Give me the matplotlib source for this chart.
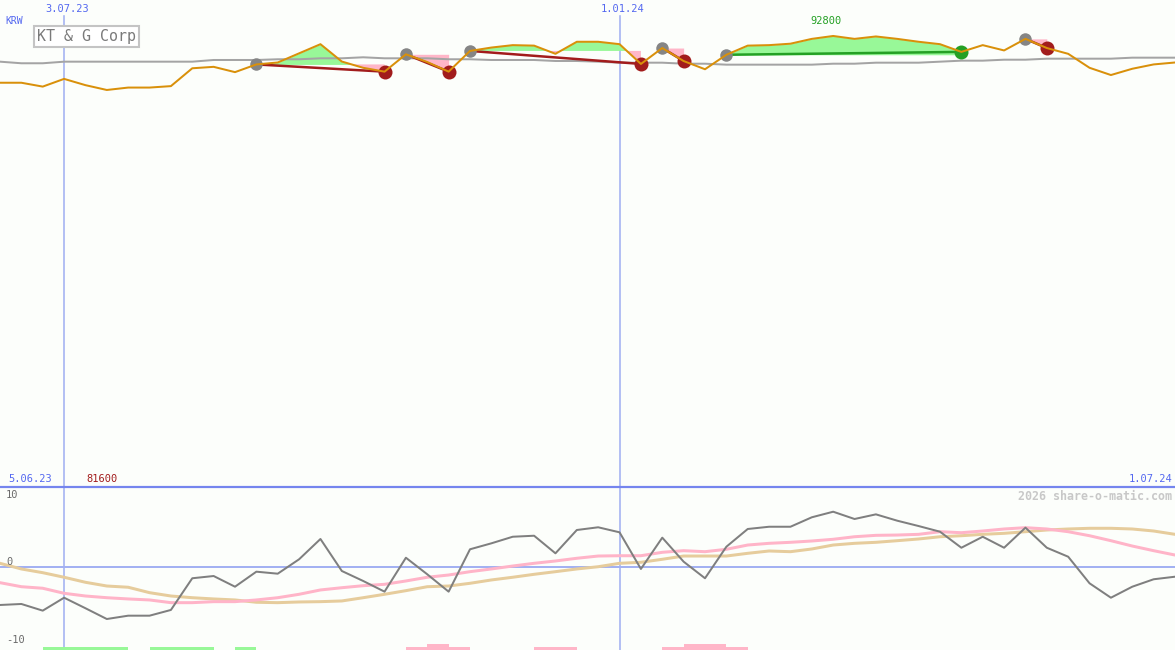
import matplotlib
matplotlib.use('Agg')
import matplotlib.pyplot as plt
import matplotlib.dates as mdates
from matplotlib.lines import Line2D
from matplotlib.patches import FancyBboxPatch
import numpy as np
import pandas as pd

# ---------------- data ----------------
dates = pd.date_range('2023-06-12', '2024-07-01', freq='7D')

price = [83100, 83100, 82300, 83900, 82600, 81600, 82100, 82100, 82400, 86100,
         86400, 85300, 86900, 87300, 89200, 91100, 87500, 86200, 85400, 89000,
         87400, 85400, 89700, 90400, 90900, 90800, 89100, 91600, 91600, 91100,
         87000, 90300, 87600, 85900, 88900, 90800, 90900, 91200, 92200, 92800,
         92200, 92700, 92200, 91600, 91100, 89500, 90900, 89800, 92200, 90300,
         89100, 86200, 84700, 86000, 86900, 87300]

ma_line = [87470, 87140, 87140, 87470, 87470, 87470, 87470, 87470, 87470, 87470,
           87820, 87820, 87820, 87970, 87970, 88170, 88170, 88380, 88170, 88170,
           88170, 87970, 87970, 87820, 87820, 87820, 87610, 87610, 87470, 87260,
           87260, 87260, 87050, 87050, 86850, 86850, 86850, 86850, 86850, 87050,
           87050, 87260, 87260, 87260, 87470, 87680, 87680, 87880, 87880, 88090,
           88090, 88090, 88090, 88300, 88300, 88300]

osc = [-4.84, -4.71, -5.57, -3.90, -5.26, -6.65, -6.22, -6.22, -5.48, -1.39,
       -1.10, -2.48, -0.54, -0.80, 1.06, 3.68, -0.45, -1.74, -3.12, 1.26,
       -0.88, -3.12, 2.35, 3.12, 3.97, 4.10, 1.83, 4.84, 5.19, 4.54,
       -0.19, 3.85, 0.75, -1.39, 2.68, 4.97, 5.26, 5.26, 6.48, 7.20,
       6.26, 6.86, 6.04, 5.35, 4.62, 2.55, 3.97, 2.55, 5.14, 2.55,
       1.39, -2.04, -3.90, -2.48, -1.52, -1.19]

osc_pink = [-1.96, -2.48, -2.68, -3.33, -3.68, -3.90, -4.06, -4.19, -4.54, -4.54,
            -4.41, -4.41, -4.19, -3.90, -3.46, -2.90, -2.61, -2.35, -2.17, -1.74,
            -1.26, -0.97, -0.54, -0.19, 0.19, 0.54, 0.84, 1.19, 1.48, 1.52,
            1.52, 1.96, 2.17, 2.04, 2.35, 2.90, 3.12, 3.25, 3.42, 3.64,
            3.97, 4.15, 4.19, 4.28, 4.62, 4.49, 4.71, 4.97, 5.14, 4.97,
            4.62, 4.10, 3.46, 2.77, 2.17, 1.61]

osc_tan = [0.54, -0.19, -0.67, -1.26, -1.91, -2.39, -2.55, -3.25, -3.68, -3.90,
           -4.06, -4.19, -4.49, -4.54, -4.45, -4.41, -4.32, -3.90, -3.46, -2.99,
           -2.48, -2.39, -2.04, -1.61, -1.26, -0.88, -0.54, -0.19, 0.10, 0.54,
           0.67, 1.06, 1.48, 1.48, 1.48, 1.83, 2.13, 2.04, 2.39, 2.90,
           3.12, 3.25, 3.46, 3.68, 3.97, 4.10, 4.28, 4.41, 4.62, 4.84,
           4.97, 5.06, 5.06, 4.97, 4.71, 4.28]

trade_entry = [12, 19, 22, 31, 34, 48]
trade_exit = [18, 21, 30, 32, 45, 49]

green_bar_weeks = [2, 3, 4, 5, 7, 8, 9, 11]
green_bar_level = [1, 1, 1, 1, 1, 1, 1, 1]
pink_bar_weeks = [19, 20, 21, 25, 26, 31, 32, 33, 34]
pink_bar_level = [1, 2, 1, 1, 1, 1, 2, 2, 1]

vline_weeks = [3, 29]
vline_labels = ['3.07.23', '1.01.24']
left_label = '5.06.23'
right_label = '1.07.24'
title = 'KT & G Corp'
currency = 'KRW'
osc_ticks = [10, 0, -10]

# ---------------- styling ----------------
W, H = 1175, 650
BG = '#fcfefb'
ORANGE = '#d9900a'
GRAYMA = '#a4a4a4'
RED = '#a21c1c'
DGREEN = '#24a024'
LGREEN = '#98f898'
LPINK = '#ffb6c8'
BLUE = '#5468f0'
LBLUE = '#a3b1f2'
MBLUE = '#7585ee'
MONO = 'DejaVu Sans Mono'

fig = plt.figure(figsize=(W / 100, H / 100), dpi=100, facecolor=BG)
split = 163 / H
ax1 = fig.add_axes([0, split, 1, 1 - split])
ax2 = fig.add_axes([0, 0, 1, split])
for ax in (ax1, ax2):
    ax.set_facecolor(BG)
    for s in ax.spines.values():
        s.set_visible(False)
    ax.set_xticks([])
    ax.set_yticks([])

x = mdates.date2num(dates.to_pydatetime())
p = np.array(price, dtype=float)
for ax in (ax1, ax2):
    ax.set_xlim(x[0], x[-1])
ax1.set_ylim(-747, 100262)
ax2.set_ylim(-10.65, 10.39)

def px(n):
    return n * 72 / 100

# vertical date lines
for w in vline_weeks:
    ax1.axvline(x[w], ymax=1 - 16 / 487, color=LBLUE, lw=px(1.6), zorder=1)
    ax2.axvline(x[w], color=LBLUE, lw=px(1.6), zorder=1)

# trade fills
for e, q in zip(trade_entry, trade_exit):
    seg = slice(e, q + 1)
    xs = x[seg]
    ys = p[seg]
    base = np.full_like(ys, p[e])
    ax1.fill_between(xs, ys, base, where=ys >= base, interpolate=True,
                     color=LGREEN, lw=0, zorder=2)
    ax1.fill_between(xs, ys, base, where=ys <= base, interpolate=True,
                     color=LPINK, lw=0, zorder=2)

# moving average
ax1.plot(x, ma_line, color=GRAYMA, lw=px(2), zorder=3)

# trade lines
for e, q in zip(trade_entry, trade_exit):
    col = DGREEN if p[q] > p[e] else RED
    ax1.plot([x[e], x[q]], [p[e], p[q]], color=col, lw=px(2.5), zorder=4,
             solid_capstyle='butt')

# markers
for e, q in zip(trade_entry, trade_exit):
    col = DGREEN if p[q] > p[e] else RED
    ax1.plot(x[e], p[e], 'o', ms=px(12.5), color='#858585', mec='none', zorder=5)
    ax1.plot(x[q], p[q], 'o', ms=px(14), color=col, mec='none', zorder=5)

# price line
ax1.plot(x, p, color=ORANGE, lw=px(2), zorder=6)

# max / min labels
imax = int(np.argmax(p))
imin = int(np.argmin(p))
ax1.annotate(f'{int(p[imax])}', xy=(x[imax], 1), xycoords=('data', 'axes fraction'),
             xytext=(px(-7), px(-21)), textcoords='offset points',
             ha='center', va='center', color=DGREEN, fontsize=7.5, family=MONO)
ax1.annotate(f'{int(p[imin])}', xy=(x[imin], 0), xycoords=('data', 'axes fraction'),
             xytext=(px(-5), px(8)), textcoords='offset points',
             ha='center', va='center', color=RED, fontsize=7.5, family=MONO)

# date labels on top
for w, lab in zip(vline_weeks, vline_labels):
    ax1.annotate(lab, xy=(x[w], 1), xycoords=('data', 'axes fraction'),
                 xytext=(px(3), px(-9)), textcoords='offset points',
                 ha='center', va='center', color=BLUE, fontsize=7.5, family=MONO)

fig.text(5 / W, 1 - 21.5 / H, currency, ha='left', va='center', color=BLUE,
         fontsize=7, family=MONO)
fig.text(37 / W, 1 - 36.5 / H, title, ha='left', va='center', color='#7a7a7a',
         fontsize=10.8, family=MONO,
         bbox=dict(boxstyle='square,pad=0.22', fc='white', ec='#c4c4c4', lw=1.5))

# bottom panel
ax2.axhline(0, color=LBLUE, lw=px(2), zorder=1)
ax2.plot(x, osc_tan, color='#e6cc9c', lw=px(3), zorder=2)
ax2.plot(x, osc_pink, color='#ffb4c8', lw=px(3), zorder=3)
ax2.plot(x, osc, color='#7f7f7f', lw=px(2), zorder=4)

ymin = ax2.get_ylim()[0]
unit = 3 / 7.75
gx = [x[w] for w in green_bar_weeks]
ax2.bar(gx, [l * unit for l in green_bar_level], width=7, bottom=ymin,
        align='edge', color=LGREEN, lw=0, zorder=2)
pxs = [x[w] for w in pink_bar_weeks]
ax2.bar(pxs, [l * unit for l in pink_bar_level], width=7, bottom=ymin,
        align='edge', color=LPINK, lw=0, zorder=2)

for t in osc_ticks:
    ax2.annotate(f'{t}', xy=(0, t), xycoords=('axes fraction', 'data'),
                 xytext=(px(6), 0), textcoords='offset points',
                 ha='left', va='top' if t > 0 else 'bottom',
                 color='#6a6a6a', fontsize=7.5, family=MONO)

# separator line
fig.add_artist(Line2D([0, 1], [split, split], transform=fig.transFigure,
                      color=MBLUE, lw=px(2.2), zorder=10))

fig.text(8 / W, 1 - 479 / H, left_label, ha='left', va='center', color=BLUE,
         fontsize=7.5, family=MONO)
fig.text(1172 / W, 1 - 479 / H, right_label, ha='right', va='center', color=BLUE,
         fontsize=7.5, family=MONO)
fig.text(1172 / W, 1 - 496 / H, '2026 share-o-matic.com', ha='right', va='center',
         color='#c8c8c8', fontsize=8.4, family=MONO, weight='bold')

fig.savefig('out.png', dpi=100, facecolor=BG)
